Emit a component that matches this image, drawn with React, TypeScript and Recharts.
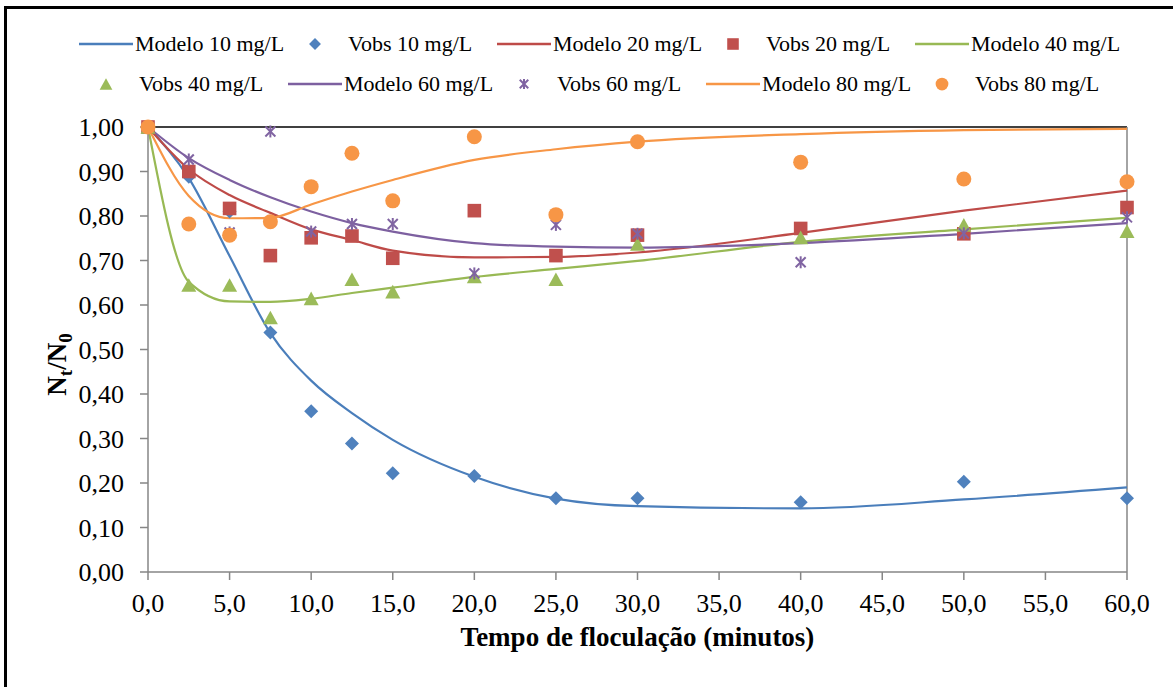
import React from 'react';
import { ComposedChart, Line, XAxis, YAxis, ReferenceLine } from 'recharts';

// ---------- data ----------
const TIMES = [0, 2.5, 5, 7.5, 10, 12.5, 15, 20, 25, 30, 40, 50, 60];

const MODEL_10 = [1.0, 0.885, 0.71, 0.537, 0.43, 0.357, 0.297, 0.214, 0.165, 0.148, 0.143, 0.163, 0.19];
const VOBS_10 = [1.0, 0.888, 0.81, 0.538, 0.361, 0.289, 0.222, 0.216, 0.166, 0.166, 0.157, 0.203, 0.166];

const MODEL_20 = [1.0, 0.905, 0.847, 0.807, 0.77, 0.746, 0.722, 0.707, 0.708, 0.718, 0.762, 0.812, 0.857];
const VOBS_20 = [1.0, 0.9, 0.817, 0.711, 0.751, 0.755, 0.705, 0.812, 0.711, 0.757, 0.772, 0.76, 0.819];

const MODEL_40 = [1.0, 0.652, 0.608, 0.607, 0.614, 0.627, 0.639, 0.663, 0.681, 0.699, 0.742, 0.77, 0.796];
const VOBS_40 = [1.0, 0.645, 0.645, 0.572, 0.615, 0.658, 0.63, 0.664, 0.658, 0.737, 0.752, 0.78, 0.766];

const MODEL_60 = [1.0, 0.93, 0.881, 0.842, 0.81, 0.784, 0.765, 0.739, 0.731, 0.729, 0.739, 0.76, 0.784];
const VOBS_60 = [1.0, 0.927, 0.763, 0.99, 0.765, 0.782, 0.782, 0.671, 0.78, 0.76, 0.696, 0.761, 0.797];

const MODEL_80 = [1.0, 0.845, 0.795, 0.796, 0.826, 0.855, 0.881, 0.926, 0.95, 0.967, 0.984, 0.993, 0.996];
const VOBS_80 = [1.0, 0.782, 0.757, 0.787, 0.866, 0.941, 0.834, 0.978, 0.803, 0.967, 0.921, 0.883, 0.877];

const X_TICKS = [0, 5, 10, 15, 20, 25, 30, 35, 40, 45, 50, 55, 60];
const Y_TICKS = [0, 0.1, 0.2, 0.3, 0.4, 0.5, 0.6, 0.7, 0.8, 0.9, 1.0];

const LEGEND_ROW_1 = ['Modelo 10 mg/L', 'Vobs 10 mg/L', 'Modelo 20 mg/L', 'Vobs 20 mg/L', 'Modelo 40 mg/L'];
const LEGEND_ROW_2 = ['Vobs 40 mg/L', 'Modelo 60 mg/L', 'Vobs 60 mg/L', 'Modelo 80 mg/L', 'Vobs 80 mg/L'];

const X_TITLE = 'Tempo de floculação (minutos)';

// ---------- styles ----------
const FONT = "'Liberation Serif', Tinos, 'Times New Roman', 'DejaVu Serif', 'Noto Serif', serif";
const C_BLUE = '#4A7EBB';
const C_RED = '#BE4B48';
const C_GREEN = '#98B954';
const C_PURPLE = '#7D60A0';
const C_ORANGE = '#F79646';
const AXIS = '#868686';

const data = TIMES.map((t, i) => ({
  t,
  m10: MODEL_10[i], o10: VOBS_10[i],
  m20: MODEL_20[i], o20: VOBS_20[i],
  m40: MODEL_40[i], o40: VOBS_40[i],
  m60: MODEL_60[i], o60: VOBS_60[i],
  m80: MODEL_80[i], o80: VOBS_80[i],
}));

type Kind = 'diamond' | 'square' | 'triangle' | 'star' | 'circle';

function Marker({ kind, cx, cy, s = 1 }: { kind: Kind; cx: number; cy: number; s?: number }) {
  if (kind === 'diamond') {
    const r = 7 * s;
    return <path d={`M${cx},${cy - r}L${cx + r},${cy}L${cx},${cy + r}L${cx - r},${cy}Z`} fill="#4F81BD" />;
  }
  if (kind === 'square') {
    const h = 6.8 * s;
    return <rect x={cx - h} y={cy - h} width={2 * h} height={2 * h} fill="#C0504D" />;
  }
  if (kind === 'triangle') {
    const w = 7.5 * s;
    const h = 6.8 * s;
    return <path d={`M${cx},${cy - h}L${cx + w},${cy + h}L${cx - w},${cy + h}Z`} fill="#9BBB59" />;
  }
  if (kind === 'star') {
    const r = 6 * s;
    const d = 5 * s;
    return (
      <g stroke="#8064A2" strokeWidth={2}>
        <line x1={cx} y1={cy - r} x2={cx} y2={cy + r} />
        <line x1={cx - d} y1={cy - d} x2={cx + d} y2={cy + d} />
        <line x1={cx + d} y1={cy - d} x2={cx - d} y2={cy + d} />
      </g>
    );
  }
  return <circle cx={cx} cy={cy} r={7.5 * s} fill={C_ORANGE} />;
}

const dotOf = (kind: Kind) => (props: any) => {
  const { cx, cy, index } = props;
  if (cx == null || cy == null) return <g key={`d-${kind}-${index}`} />;
  return (
    <g key={`d-${kind}-${index}`}>
      <Marker kind={kind} cx={cx} cy={cy} />
    </g>
  );
};

function YLabel(props: any) {
  const vb = props.viewBox || { x: 0, y: 127, width: 148, height: 445 };
  const x = 66;
  const y = vb.y + vb.height / 2 + 15;
  return (
    <text
      x={x}
      y={y}
      transform={`rotate(-90, ${x}, ${y})`}
      textAnchor="middle"
      fontFamily={FONT}
      fontWeight="bold"
      fontSize={27}
      fill="#000"
    >
      N
      <tspan fontSize={19} dy={6}>t</tspan>
      <tspan fontSize={27} dy={-6}>/N</tspan>
      <tspan fontSize={19} dy={6}>0</tspan>
    </text>
  );
}

function XLabel(props: any) {
  const vb = props.viewBox || { x: 148, y: 572, width: 979, height: 115 };
  return (
    <text
      x={vb.x + vb.width / 2}
      y={vb.y + 74}
      textAnchor="middle"
      fontFamily={FONT}
      fontWeight="bold"
      fontSize={27}
      fill="#000"
    >
      {X_TITLE}
    </text>
  );
}

const LEGEND_KINDS_1: (Kind | 'line')[] = ['line', 'diamond', 'line', 'square', 'line'];
const LEGEND_COLORS_1 = [C_BLUE, '', C_RED, '', C_GREEN];
const LEGEND_KINDS_2: (Kind | 'line')[] = ['triangle', 'line', 'star', 'line', 'circle'];
const LEGEND_COLORS_2 = ['', C_PURPLE, '', C_ORANGE, ''];

function LegendRow({ labels, kinds, colors, top }: { labels: string[]; kinds: (Kind | 'line')[]; colors: string[]; top: number }) {
  return (
    <>
      {labels.map((lab, i) => {
        const left = 79 + i * 209;
        return (
          <div key={lab} style={{ position: 'absolute', left, top: top - 15, height: 30, display: 'flex', alignItems: 'center' }}>
            <svg width={54} height={30} style={{ display: 'block' }}>
              {kinds[i] === 'line' ? (
                <line x1={0} y1={15} x2={54} y2={15} stroke={colors[i]} strokeWidth={2.5} />
              ) : (
                <Marker kind={kinds[i] as Kind} cx={27} cy={15} s={0.85} />
              )}
            </svg>
            <span style={{ marginLeft: kinds[i] === 'line' ? 2 : 6, fontFamily: FONT, fontSize: 22, color: '#000', whiteSpace: 'nowrap', lineHeight: '30px' }}>
              {lab}
            </span>
          </div>
        );
      })}
    </>
  );
}

export default function App() {
  return (
    <div style={{ position: 'absolute', left: 0, top: 0, width: 1173, height: 687, overflow: 'hidden', background: '#fff' }}>
      <div style={{ position: 'absolute', left: 4, top: 6, width: 1400, height: 900, border: '3px solid #000', boxSizing: 'border-box' }} />
      <LegendRow labels={LEGEND_ROW_1} kinds={LEGEND_KINDS_1} colors={LEGEND_COLORS_1} top={44} />
      <LegendRow labels={LEGEND_ROW_2} kinds={LEGEND_KINDS_2} colors={LEGEND_COLORS_2} top={84} />
      <div style={{ position: 'absolute', left: 0, top: 0 }}>
        <ComposedChart width={1173} height={687} data={data} margin={{ top: 127, right: 46, bottom: 0, left: 0 }}>
          <XAxis
            dataKey="t"
            type="number"
            domain={[0, 60]}
            ticks={X_TICKS}
            interval={0}
            height={115}
            tickSize={8}
            tickMargin={14}
            axisLine={{ stroke: AXIS, strokeWidth: 1.5 }}
            tickLine={{ stroke: AXIS, strokeWidth: 1.5 }}
            tick={{ fill: '#000', fontSize: 26, fontFamily: FONT }}
            tickFormatter={(v: number) => v.toFixed(1).replace('.', ',')}
            label={<XLabel />}
          />
          <YAxis
            type="number"
            domain={[0, 1]}
            ticks={Y_TICKS}
            interval={0}
            width={148}
            tickSize={8}
            tickMargin={16}
            axisLine={{ stroke: AXIS, strokeWidth: 1.5 }}
            tickLine={{ stroke: AXIS, strokeWidth: 1.5 }}
            tick={{ fill: '#000', fontSize: 26, fontFamily: FONT }}
            tickFormatter={(v: number) => v.toFixed(2).replace('.', ',')}
            label={<YLabel />}
          />
          <ReferenceLine y={1} stroke="#000" strokeWidth={1.5} />
          <ReferenceLine x={60} stroke={AXIS} strokeWidth={1.5} />

          <Line dataKey="m10" type="monotone" stroke={C_BLUE} strokeWidth={2.2} dot={false} activeDot={false} isAnimationActive={false} />
          <Line dataKey="o10" stroke="none" dot={dotOf('diamond')} activeDot={false} isAnimationActive={false} />
          <Line dataKey="m20" type="monotone" stroke={C_RED} strokeWidth={2.2} dot={false} activeDot={false} isAnimationActive={false} />
          <Line dataKey="o20" stroke="none" dot={dotOf('square')} activeDot={false} isAnimationActive={false} />
          <Line dataKey="m40" type="monotone" stroke={C_GREEN} strokeWidth={2.2} dot={false} activeDot={false} isAnimationActive={false} />
          <Line dataKey="o40" stroke="none" dot={dotOf('triangle')} activeDot={false} isAnimationActive={false} />
          <Line dataKey="m60" type="monotone" stroke={C_PURPLE} strokeWidth={2.2} dot={false} activeDot={false} isAnimationActive={false} />
          <Line dataKey="o60" stroke="none" dot={dotOf('star')} activeDot={false} isAnimationActive={false} />
          <Line dataKey="m80" type="monotone" stroke={C_ORANGE} strokeWidth={2.2} dot={false} activeDot={false} isAnimationActive={false} />
          <Line dataKey="o80" stroke="none" dot={dotOf('circle')} activeDot={false} isAnimationActive={false} />
        </ComposedChart>
      </div>
    </div>
  );
}
